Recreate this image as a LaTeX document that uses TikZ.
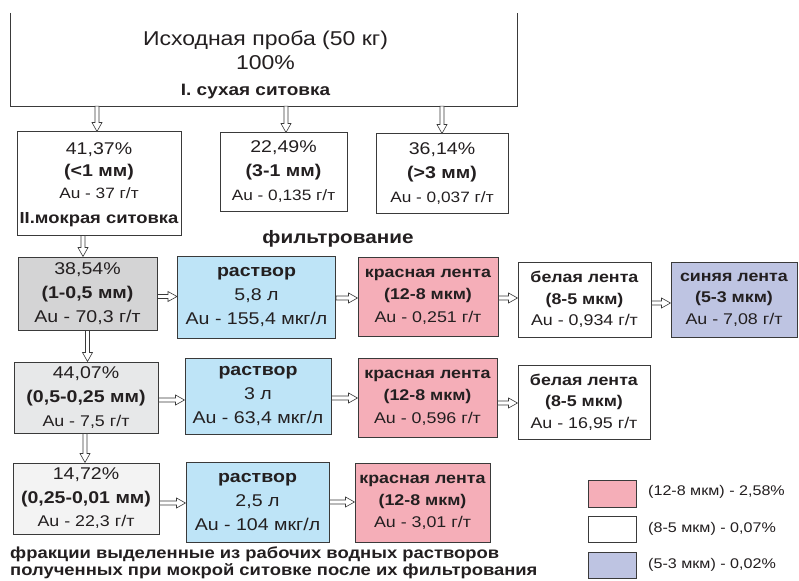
\documentclass[tikz,border=0pt]{standalone}
\usepackage{fontspec}
\setmainfont{Liberation Sans}[FakeStretch=1.15]
\usetikzlibrary{calc}
\definecolor{bcol}{HTML}{3A3A3A}
\definecolor{tcol}{HTML}{231F20}
\definecolor{gA}{HTML}{D4D4D5}
\definecolor{gB}{HTML}{E7E8E9}
\definecolor{gC}{HTML}{F3F3F3}
\definecolor{blu}{HTML}{BEE4F7}
\definecolor{pnk}{HTML}{F5AEB8}
\definecolor{lav}{HTML}{BEC4E2}
\newcommand\fsz[2]{\fontsize{#1}{#2}\selectfont}
\begin{document}
\begin{tikzpicture}[x=1pt,y=-1pt,
  bx/.style={draw=bcol, line width=1pt, inner sep=0pt, align=center, text=tcol},
  lbl/.style={inner sep=0pt, text=tcol, align=center},
  harr/.style={draw=bcol, line width=0.6pt, fill=white,
    to path={let \p1=(\tikztostart), \p2=(\tikztotarget) in
      (\x1,\y1+2pt) -- (\x2-9pt,\y1+2pt) -- (\x2-9pt,\y1+5pt) -- (\x2,\y1)
      -- (\x2-9pt,\y1-5pt) -- (\x2-9pt,\y1-2pt) -- (\x1,\y1-2pt) -- cycle}},
  varr/.style={draw=bcol, line width=0.6pt, fill=white,
    to path={let \p1=(\tikztostart), \p2=(\tikztotarget) in
      (\x1-2pt,\y1) -- (\x1-2pt,\y2+9pt) -- (\x1-5pt,\y2+9pt) -- (\x1,\y2)
      -- (\x1+5pt,\y2+9pt) -- (\x1+2pt,\y2+9pt) -- (\x1+2pt,\y1) -- cycle}},
]
\useasboundingbox (0,0) rectangle (799,580);
\fill[white] (0,0) rectangle (799,580);

% top box
\node[minimum width=506, minimum height=93, inner sep=0pt] (top) at (264,59.5) {};
\draw[bcol, line width=1pt] (top.north west) -- (top.south west) -- (top.south east) -- (top.north east);
\node[lbl, font=\fsz{20}{22}] (t1) at (265.5,40) {Исходная проба (50 кг)};
\node[lbl, font=\fsz{20}{22}] (t2) at (265.5,63) {100\%};
\node[lbl, font=\fsz{16.5}{18}\bfseries] (t3) at (255.5,92) {I. сухая ситовка};

% first level
\node[bx, minimum width=164, minimum height=103] (b1) at (99,183.5) {};
\node[lbl, font=\fsz{17}{22}] (b1t) at (99,171) {41,37\%\\\textbf{(<1 мм)}\\{\fsz{15}{18}Au - 37 г/т}};
\node[lbl, font=\fsz{16}{18}\bfseries] (b1l) at (99,220) {II.мокрая ситовка};
\node[bx, minimum width=127, minimum height=78, font=\fsz{17}{24}] (b2) at (283.5,172) {22,49\%\\\textbf{(3-1 мм)}\\{\fsz{15}{18}Au - 0,135 г/т}};
\node[bx, minimum width=132, minimum height=79, font=\fsz{17}{24}] (b3) at (442,173.5) {36,14\%\\\textbf{(>3 мм)}\\{\fsz{15}{18}Au - 0,037 г/т}};

\draw[varr] ([xshift=-2pt]top.south -| b1.north) to (b1.north);
\draw[varr] ([xshift=2.5pt]top.south -| b2.north) to (b2.north);
\draw[varr] ([xshift=0pt]top.south -| b3.north) to (b3.north);

\node[lbl, font=\fsz{18}{20}\bfseries] (filt) at (338,239) {фильтрование};

% row 1
\node[bx, fill=gA, minimum width=139, minimum height=73, font=\fsz{17}{24}] (r1a) at (87.5,293.5) {38,54\%\\\textbf{(1-0,5 мм)}\\Au - 70,3 г/т};
\node[bx, fill=blu, minimum width=158, minimum height=82, font=\fsz{17}{24}] (r1b) at (256.5,297) {\textbf{раствор}\\5,8 л\\Au - 155,4 мкг/л};
\node[bx, fill=pnk, minimum width=140, minimum height=79, font=\fsz{15.5}{22.5}] (r1c) at (428,296.5) {\textbf{красная лента}\\\textbf{(12-8 мкм)}\\Au - 0,251 г/т};
\node[bx, fill=white, minimum width=133, minimum height=75, font=\fsz{15.5}{21.5}] (r1d) at (584.5,299.5) {\textbf{белая лента}\\\textbf{(8-5 мкм)}\\Au - 0,934 г/т};
\node[bx, fill=lav, minimum width=126, minimum height=75, font=\fsz{15.5}{21.5}] (r1e) at (734,299.5) {\textbf{синяя лента}\\\textbf{(5-3 мкм)}\\Au - 7,08 г/т};

% row 2
\node[bx, fill=gB, minimum width=144, minimum height=71, font=\fsz{17}{24}] (r2a) at (86,397.5) {44,07\%\\\textbf{(0,5-0,25 мм)}\\{\fsz{15.5}{18}Au - 7,5 г/т}};
\node[bx, fill=blu, minimum width=146, minimum height=76, font=\fsz{17}{24}] (r2b) at (258,396) {\textbf{раствор}\\3 л\\Au - 63,4 мкг/л};
\node[bx, fill=pnk, minimum width=139, minimum height=79, font=\fsz{15.5}{22.5}] (r2c) at (427.5,397.5) {\textbf{красная лента}\\\textbf{(12-8 мкм)}\\Au - 0,596 г/т};
\node[bx, fill=white, minimum width=132, minimum height=74, font=\fsz{15.5}{21.5}] (r2d) at (584,402) {\textbf{белая лента}\\\textbf{(8-5 мкм)}\\Au - 16,95 г/т};

% row 3
\node[bx, fill=gC, minimum width=146, minimum height=71, font=\fsz{17}{23.5}] (r3a) at (86,498.5) {14,72\%\\\textbf{(0,25-0,01 мм)}\\{\fsz{15.5}{18}Au - 22,3 г/т}};
\node[bx, fill=blu, minimum width=143, minimum height=80, font=\fsz{17}{24}] (r3b) at (257.5,502) {\textbf{раствор}\\2,5 л\\Au - 104 мкг/л};
\node[bx, fill=pnk, minimum width=135, minimum height=79, font=\fsz{15.5}{22}] (r3c) at (422.5,502.5) {\textbf{красная лента}\\\textbf{(12-8 мкм)}\\Au - 3,01 г/т};

% vertical arrows
\draw[varr] ([xshift=-16pt]b1.south) to (r1a.north);
\draw[varr] (r1a.south) to (r2a.north);
\draw[varr] ([xshift=-1pt]r2a.south) to (r3a.north);

% horizontal arrows
\draw[harr] ([yshift=-3pt]r1a.east) to (r1b.west);
\draw[harr] ([yshift=-1pt]r1b.east) to (r1c.west);
\draw[harr] ([yshift=-1.5pt]r1c.east) to (r1d.west);
\draw[harr] ([yshift=-3.5pt]r1d.east) to (r1e.west);
\draw[harr] ([yshift=-2.5pt]r2a.east) to (r2b.west);
\draw[harr] ([yshift=-2pt]r2b.east) to (r2c.west);
\draw[harr] ([yshift=-5.5pt]r2c.east) to (r2d.west);
\draw[harr] ([yshift=-4.5pt]r3a.east) to (r3b.west);
\draw[harr] (r3b.east) to (r3c.west);

% legend
\node[bx, fill=pnk, minimum width=48, minimum height=27] (lp) at (612,493.5) {};
\node[bx, fill=white, minimum width=48, minimum height=26] (lw) at (612,529) {};
\node[bx, fill=lav, minimum width=48, minimum height=26] (lb) at (612,565) {};
\node[lbl, anchor=west, font=\fsz{14}{17}] (lpt) at (648,492) {(12-8 мкм) - 2,58\%};
\node[lbl, anchor=west, font=\fsz{14}{17}] (lwt) at (648,529) {(8-5 мкм) - 0,07\%};
\node[lbl, anchor=west, font=\fsz{14}{17}] (lbt) at (648,565) {(5-3 мкм) - 0,02\%};

% bottom text
\node[lbl, anchor=west, font=\fsz{16}{18}\bfseries] (n1) at (10,554) {фракции выделенные из рабочих водных растворов};
\node[lbl, anchor=west, font=\fsz{16}{18}\bfseries] (n2) at (10,571) {полученных при мокрой ситовке после их фильтрования};
\end{tikzpicture}
\end{document}
